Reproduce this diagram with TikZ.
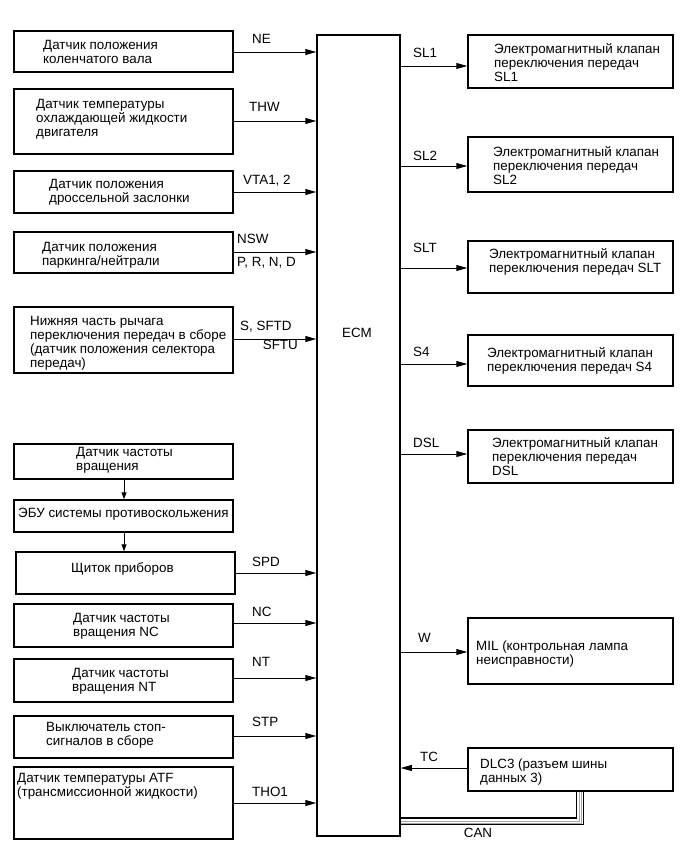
\documentclass[tikz,border=0pt]{standalone}
\usepackage{fontspec}
\setmainfont{Liberation Sans}
\usetikzlibrary{arrows.meta}
\newcommand\myfs{\fontsize{13.4}{14}\selectfont}
\begin{document}
\begin{tikzpicture}[x=1pt,y=-1pt,
  box/.style={draw, line width=1.5pt, inner sep=0pt, rectangle},
  txt/.style={inner sep=0pt, align=left, anchor=north west, font=\myfs},
  arr/.style={-{Triangle[length=11pt,width=6pt]}, line width=1pt},
  sarr/.style={-{Triangle[length=7pt,width=5pt]}, line width=1pt},
  lbox/.style={box, minimum width=219pt},
  rbox/.style={box, minimum width=205pt}]
\useasboundingbox[fill=white] (0,0) rectangle (687,857);
% ECM
\node[box, minimum width=83pt, minimum height=801pt] (ecm) at (358.5,435.5) {};
\node[inner sep=0pt, font=\myfs] (ecmt) at (357,333) {ECM};
% left boxes
\node[lbox, minimum height=41pt] (b1) at (123.5,51.5) {};
\node[lbox, minimum height=65pt] (b2) at (123.5,121.5) {};
\node[lbox, minimum height=42pt] (b3) at (123.5,192) {};
\node[lbox, minimum height=41pt] (b4) at (123.5,252.5) {};
\node[lbox, minimum height=66pt] (b5) at (123.5,340) {};
\node[lbox, minimum height=35pt] (b6) at (123.5,461.5) {};
\node[lbox, minimum height=32pt] (b7) at (123.5,516) {};
\node[lbox, minimum height=42pt] (b8) at (125.5,573) {};
\node[lbox, minimum height=43pt] (b9) at (123.5,625.5) {};
\node[lbox, minimum height=43pt] (b10) at (123.5,680.5) {};
\node[lbox, minimum height=42pt] (b11) at (123.5,737) {};
\node[lbox, minimum height=72pt] (b12) at (123.5,803) {};
% left texts
\node[txt] (t1) at (43,40.5) {Датчик положения\\коленчатого вала};
\node[txt] (t2) at (36,99) {Датчик температуры\\охлаждающей жидкости\\двигателя};
\node[txt] (t3) at (49,179) {Датчик положения\\дроссельной заслонки};
\node[txt] (t4) at (42,242) {Датчик положения\\паркинга/нейтрали};
\node[txt] (t5) at (30,316) {Нижняя часть рычага\\переключения передач в сборе\\(датчик положения селектора\\передач)};
\node[txt] (t6) at (76,447) {Датчик частоты\\вращения};
\node[txt] (t7) at (18,508) {ЭБУ системы противоскольжения};
\node[txt] (t8) at (71,562) {Щиток приборов};
\node[txt] (t9) at (73,613) {Датчик частоты\\вращения NC};
\node[txt] (t10) at (72,668) {Датчик частоты\\вращения NT};
\node[txt] (t11) at (46,722) {Выключатель стоп-\\сигналов в сборе};
\node[txt] (t12) at (17,773) {Датчик температуры ATF\\(трансмиссионной жидкости)};
% left connectors
\draw[arr] (b1.east |- 0,52) -- (ecm.west |- 0,52);
\draw[arr] (b2.east |- 0,121) -- (ecm.west |- 0,121);
\draw[arr] (b3.east |- 0,192) -- (ecm.west |- 0,192);
\draw[arr] (b4.east |- 0,252) -- (ecm.west |- 0,252);
\draw[arr] (b5.east |- 0,339) -- (ecm.west |- 0,339);
\draw[sarr] (b6.south -| 124,0) -- (b7.north -| 124,0);
\draw[sarr] (b7.south -| 124,0) -- (b8.north -| 124,0);
\draw[arr] (b8.east |- 0,573) -- (ecm.west |- 0,573);
\draw[arr] (b9.east |- 0,623) -- (ecm.west |- 0,623);
\draw[arr] (b10.east |- 0,678) -- (ecm.west |- 0,678);
\draw[arr] (b11.east |- 0,736) -- (ecm.west |- 0,736);
\draw[arr] (b12.east |- 0,803) -- (ecm.west |- 0,803);
% left labels
\node[txt] (lNE) at (252,34) {NE};
\node[txt] (lTHW) at (249,102) {THW};
\node[txt] (lVTA) at (243,175) {VTA1, 2};
\node[txt] (lNSW) at (237,234) {NSW};
\node[txt] (lPRND) at (237,257) {P, R, N, D};
\node[txt] (lS) at (240,321) {S, SFTD};
\node[txt, anchor=north east] (lSFTU) at (298,340) {SFTU};
\node[txt] (lSPD) at (252,557) {SPD};
\node[txt] (lNC) at (252,607) {NC};
\node[txt] (lNT) at (252,657) {NT};
\node[txt] (lSTP) at (252,717) {STP};
\node[txt] (lTHO) at (252,787) {THO1};
% right boxes
\node[rbox, minimum height=53pt] (r1) at (570.5,61.5) {};
\node[rbox, minimum height=55pt] (r2) at (570.5,164.5) {};
\node[rbox, minimum height=52pt] (r3) at (570.5,267) {};
\node[rbox, minimum height=51pt] (r4) at (570.5,360.5) {};
\node[rbox, minimum height=53pt] (r5) at (570.5,456.5) {};
\node[rbox, minimum height=66pt] (r6) at (570.5,651) {};
\node[rbox, minimum height=43pt] (r7) at (570.5,769.5) {};
% right texts
\node[txt] (s1) at (494,43) {Электромагнитный клапан\\переключения передач\\SL1};
\node[txt] (s2) at (493,146) {Электромагнитный клапан\\переключения передач\\SL2};
\node[txt] (s3) at (489,248) {Электромагнитный клапан\\переключения передач SLT};
\node[txt] (s4) at (487,347) {Электромагнитный клапан\\переключения передач S4};
\node[txt] (s5) at (492,437) {Электромагнитный клапан\\переключения передач\\DSL};
\node[txt] (s6) at (476,641) {MIL (контрольная лампа\\неисправности)};
\node[txt] (s7) at (480,759) {DLC3 (разъем шины\\данных 3)};
% right connectors
\draw[arr] (ecm.east |- 0,66) -- (r1.west |- 0,66);
\draw[arr] (ecm.east |- 0,166) -- (r2.west |- 0,166);
\draw[arr] (ecm.east |- 0,268) -- (r3.west |- 0,268);
\draw[arr] (ecm.east |- 0,364) -- (r4.west |- 0,364);
\draw[arr] (ecm.east |- 0,454) -- (r5.west |- 0,454);
\draw[arr] (ecm.east |- 0,652) -- (r6.west |- 0,652);
\draw[arr] (r7.west |- 0,768) -- (ecm.east |- 0,768);
% right labels
\node[txt] (lSL1) at (413,48) {SL1};
\node[txt] (lSL2) at (413,151) {SL2};
\node[txt] (lSLT) at (413,243) {SLT};
\node[txt] (lS4) at (413,347) {S4};
\node[txt] (lDSL) at (413,438) {DSL};
\node[txt] (lW) at (418,633) {W};
\node[txt] (lTC) at (420,752) {TC};
% CAN bundle
\draw[line width=1.9pt] (r7.south -| 576.5,0) -- (576.5,818) -- (ecm.east |- 0,818);
\draw[line width=0.8pt, gray!70] (r7.south -| 579.7,0) -- (579.7,821.2) -- (ecm.east |- 0,821.2);
\draw[line width=0.8pt, gray!70] (r7.south -| 581.5,0) -- (581.5,823) -- (ecm.east |- 0,823);
\draw[line width=0.9pt] (r7.south -| 583.3,0) -- (583.3,824.8) -- (ecm.east |- 0,824.8);
\node[txt, anchor=north] (lCAN) at (478,828) {CAN};
\end{tikzpicture}
\end{document}
